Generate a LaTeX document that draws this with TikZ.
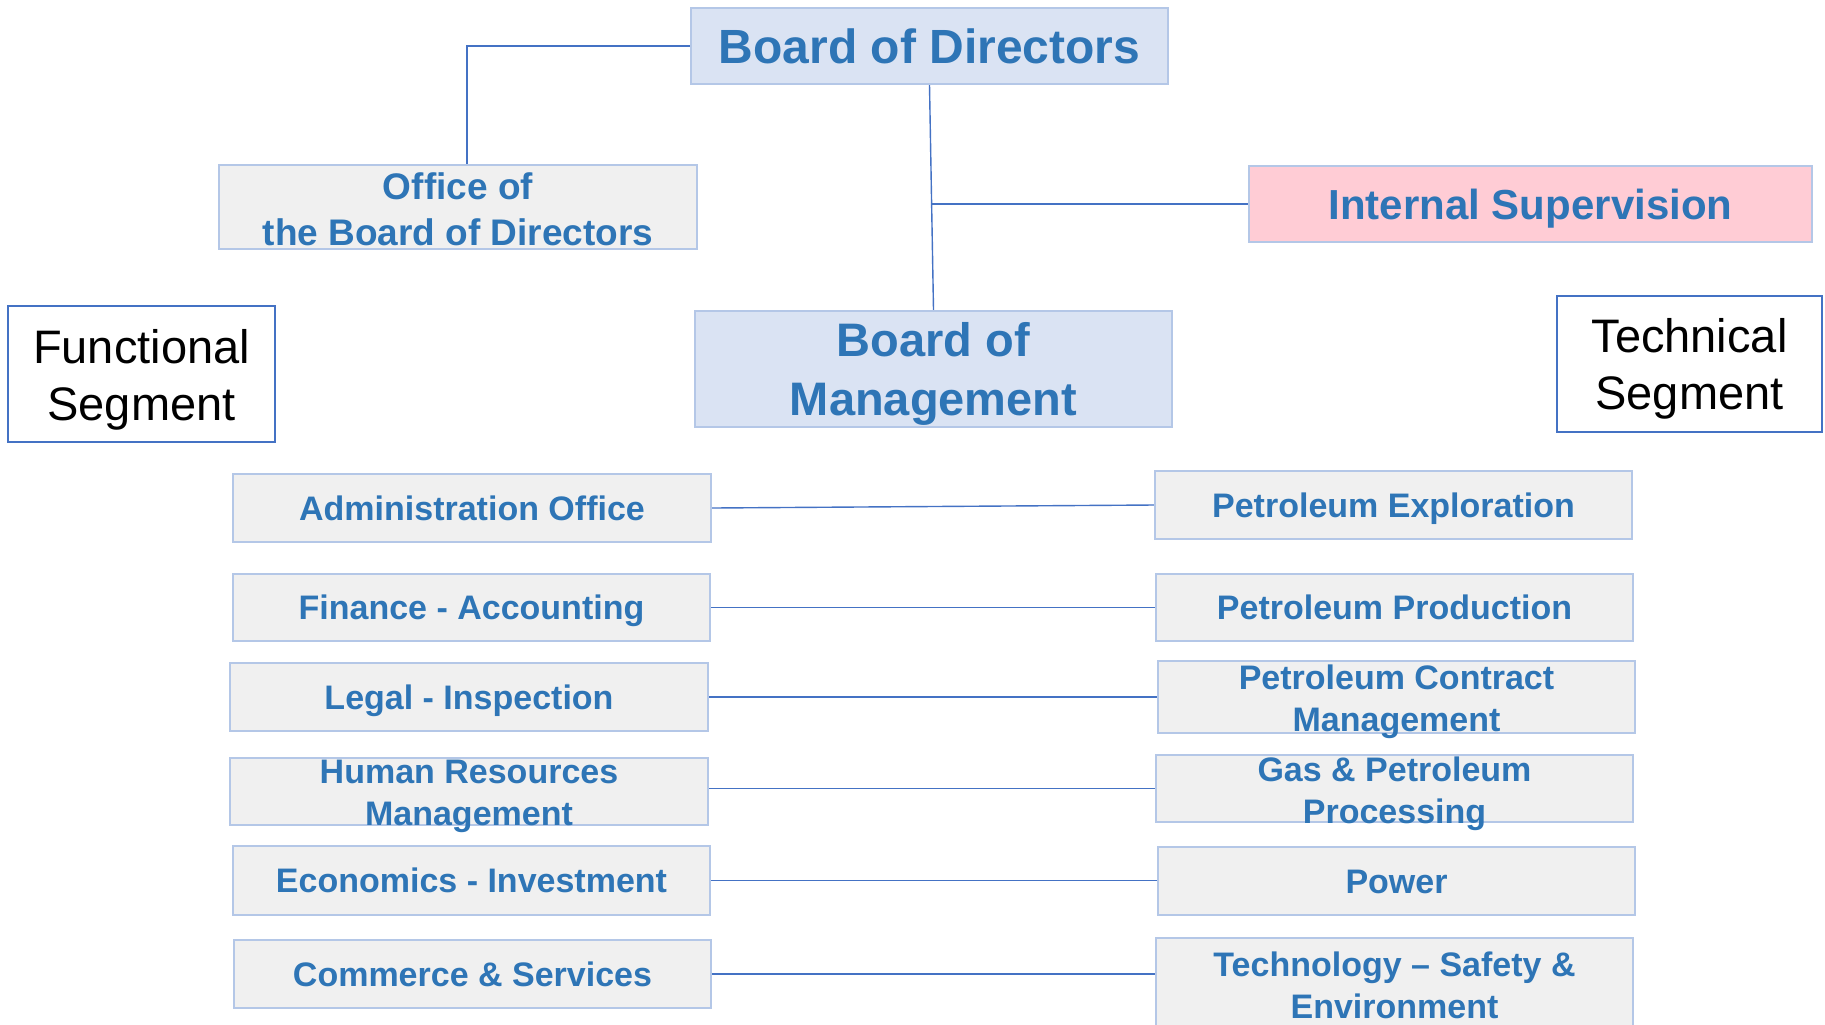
\documentclass[tikz,border=0pt]{standalone}
\usepackage{fontspec}
\setmainfont{Liberation Sans}
\usetikzlibrary{fit}
\definecolor{tblue}{HTML}{2E75B6}
\definecolor{lblue}{HTML}{DAE3F3}
\definecolor{bord}{HTML}{B4C7E7}
\definecolor{gfill}{HTML}{F0F0F0}
\definecolor{pinkf}{HTML}{FFCCD5}
\definecolor{lineb}{HTML}{4472C4}
\tikzset{
 bluebox/.style={draw=bord, fill=lblue, line width=1.1pt, inner sep=0pt},
 graybox/.style={draw=bord, fill=gfill, line width=1.1pt, inner sep=0pt},
 pinkbox/.style={draw=bord, fill=pinkf, line width=1.1pt, inner sep=0pt},
 segbox/.style={draw=lineb, fill=white, line width=0.8pt, inner sep=0pt},
 txtbase/.style={text=tblue, align=center, inner sep=0pt},
 bigtxt/.style={txtbase, font=\fontsize{24}{29.5}\selectfont\bfseries},
 suptxt/.style={txtbase, font=\fontsize{21}{25}\selectfont\bfseries, text height=15pt, text depth=0pt},
 offtxt/.style={txtbase, font=\fontsize{18.5}{23}\selectfont\bfseries},
 onetxt/.style={txtbase, font=\fontsize{17}{21}\selectfont\bfseries, text height=12.2pt, text depth=0pt},
 twotxt/.style={txtbase, font=\fontsize{17}{21}\selectfont\bfseries},
 segtxt/.style={text=black, align=center, inner sep=0pt, font=\fontsize{23.5}{28.5}\selectfont},
 conn/.style={draw=lineb, line width=0.7pt},
}
\begin{document}
\begin{tikzpicture}[x=0.5pt,y=-0.5pt]
\useasboundingbox (0,0) rectangle (1825,1024);
\clip (0,0) rectangle (1825,1024);
\coordinate (c1) at (467,0);
\coordinate (j) at (931,204);
% boxes
\node[bluebox, fit={(691,8) (1168,84)}] (bod) {};
\node[graybox, fit={(219,165) (697,249)}] (office) {};
\node[pinkbox, fit={(1249,166) (1812,242)}] (sup) {};
\node[segbox, fit={(8,306) (275,442)}] (func) {};
\node[segbox, fit={(1557,296) (1822,432)}] (tech) {};
\node[bluebox, fit={(695,311) (1172,427)}] (bom) {};
% left column
\node[graybox, fit={(233,474) (711,542)}] (admin) {};
\node[graybox, fit={(233,574) (710,641)}] (fin) {};
\node[graybox, fit={(230,663) (708,731)}] (legal) {};
\node[graybox, fit={(230,758) (708,825)}] (hr) {};
\node[graybox, fit={(233,846) (710,915)}] (econ) {};
\node[graybox, fit={(234,940) (711,1008)}] (comm) {};
% right column
\node[graybox, fit={(1155,471) (1632,539)}] (pexp) {};
\node[graybox, fit={(1156,574) (1633,641)}] (pprod) {};
\node[graybox, fit={(1158,661) (1635,733)}] (pcon) {};
\node[graybox, fit={(1156,755) (1633,822)}] (gas) {};
\node[graybox, fit={(1158,847) (1635,915)}] (power) {};
\node[graybox, fit={(1156,938) (1633,1040)}] (tse) {};
% connectors
\draw[conn] (bod.west) -| (c1 |- office.north);
\draw[conn] (bod.south) -- (bom.north);
\draw[conn] (j) -- (sup.west);
\draw[conn] (admin.east) -- (pexp.west);
\draw[conn] (fin.east) -- (pprod.west);
\draw[conn] (legal.east) -- (pcon.west);
\draw[conn] (hr.east |- gas.west) -- (gas.west);
\draw[conn] (econ.east) -- (econ.east -| power.west);
\draw[conn] (comm.east) -- (comm.east -| tse.west);
% texts
\node[bigtxt] (bodT) at (bod.center) {Board of Directors};
\node[offtxt] (officeT) at ([yshift=-1pt]office.center) {Office of\\the Board of Directors};
\node[suptxt] (supT) at (sup.center) {Internal Supervision};
\node[segtxt] (funcT) at ([yshift=-3pt]func.center) {Functional\\Segment};
\node[segtxt] (techT) at ([yshift=-2.5pt]tech.center) {Technical\\Segment};
\node[bigtxt, font=\fontsize{23.5}{29.5}\selectfont\bfseries] (bomT) at ([yshift=-2.5pt]bom.center) {Board of\\Management};
\node[onetxt] (adminT) at (admin.center) {Administration Office};
\node[onetxt] (finT) at (fin.center) {Finance - Accounting};
\node[onetxt] (legalT) at (legal.center) {Legal - Inspection};
\node[twotxt] (hrT) at ([yshift=-2.5pt]hr.center) {Human Resources\\Management};
\node[onetxt] (econT) at (econ.center) {Economics - Investment};
\node[onetxt] (commT) at (comm.center) {Commerce \& Services};
\node[onetxt] (pexpT) at (pexp.center) {Petroleum Exploration};
\node[onetxt] (pprodT) at (pprod.center) {Petroleum Production};
\node[twotxt] (pconT) at ([yshift=-2.5pt]pcon.center) {Petroleum Contract\\Management};
\node[twotxt] (gasT) at ([yshift=-2.5pt]gas.center) {Gas \& Petroleum\\Processing};
\node[onetxt] (powerT) at (power.center) {Power};
\node[twotxt] (tseT) at (1394.5,985) {Technology – Safety \&\\Environment};
\end{tikzpicture}
\end{document}
